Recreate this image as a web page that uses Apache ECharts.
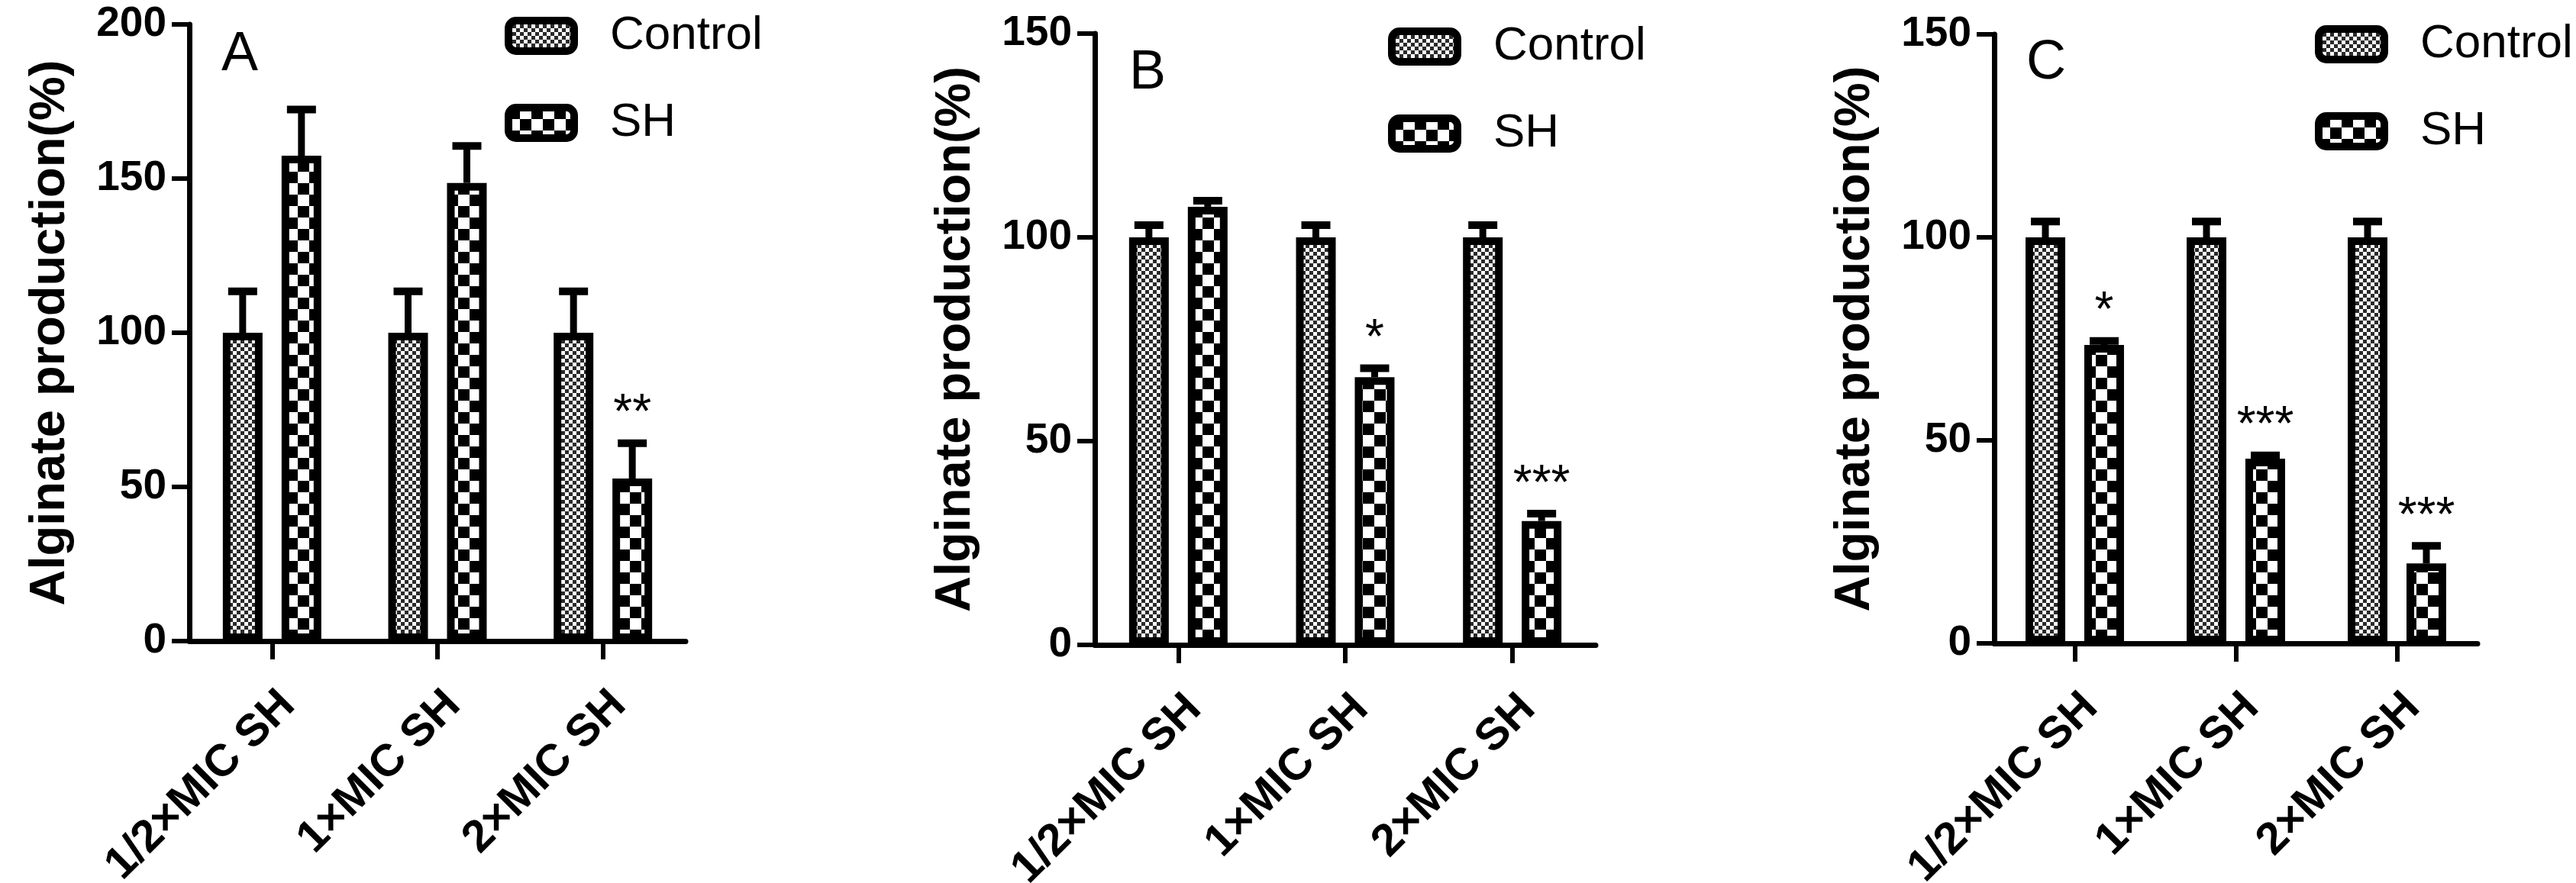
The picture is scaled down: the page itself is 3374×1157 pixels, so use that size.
<!DOCTYPE html>
<html>
<head>
<meta charset="utf-8">
<title>Alginate production</title>
<script src="https://cdn.jsdelivr.net/npm/echarts@6/dist/echarts.min.js"></script>
<style>
  html, body { margin: 0; padding: 0; background: #fff; }
  #main { width: 3374px; height: 1157px; }
</style>
</head>
<body>
<div id="main"></div>
<script>
// categories shared by the three panels
var categories = ['1/2×MIC SH', '1×MIC SH', '2×MIC SH'];
var seriesNames = ['Control', 'SH'];

// panel A
var controlA = [100, 100, 100];
var controlErrA = [13.4, 13.4, 13.4];
var shA = [157.4, 148.6, 52.7];
var shErrA = [15, 12, 11.5];
var sigA = ['', '', '**'];

// panel B
var controlB = [100, 100, 100];
var controlErrB = [3, 3, 3];
var shB = [107.5, 65.7, 30.4];
var shErrB = [1.5, 2.2, 1.8];
var sigB = ['', '*', '***'];

// panel C
var controlC = [100, 100, 100];
var controlErrC = [3.9, 3.9, 3.9];
var shC = [73.5, 45.5, 19.7];
var shErrC = [1, 0.8, 4.3];
var sigC = ['*', '***', '***'];

var yMax = [200, 150, 150];
var yInterval = 50;

var FONT = '"Liberation Sans", Arial, sans-serif';

// checkerboard fills like the Prism hatch patterns
function checker(cell, dark) {
  var c = document.createElement('canvas');
  c.width = c.height = cell * 2;
  var ctx = c.getContext('2d');
  ctx.fillStyle = '#fff';
  ctx.fillRect(0, 0, cell * 2, cell * 2);
  ctx.fillStyle = dark;
  ctx.fillRect(0, 0, cell, cell);
  ctx.fillRect(cell, cell, cell, cell);
  return c;
}
var finePattern = { image: checker(5, '#2a2a2a'), repeat: 'repeat' };
var coarsePattern = { image: checker(15, '#000'), repeat: 'repeat' };

var BAR_W = 52;
var BAR_GAP = '48%';
var HALF_STEP = 38.5; // bar centre offset from category centre

var panels = [
  { letter: 'A', ctrl: controlA, ctrlErr: controlErrA, sh: shA, shErr: shErrA, sig: sigA,
    grid: { left: 248, top: 32, width: 650, height: 808 },
    legendPos: { left: 661, top: 16 }, letterPos: { left: 290, top: 36 } },
  { letter: 'B', ctrl: controlB, ctrlErr: controlErrB, sh: shB, shErr: shErrB, sig: sigB,
    grid: { left: 1434, top: 44, width: 656, height: 801 },
    legendPos: { left: 1818, top: 30 }, letterPos: { left: 1479, top: 60 } },
  { letter: 'C', ctrl: controlC, ctrlErr: controlErrC, sh: shC, shErr: shErrC, sig: sigC,
    grid: { left: 2612, top: 45, width: 633, height: 798 },
    legendPos: { left: 3032, top: 27 }, letterPos: { left: 2654, top: 47 } }
];

function errorRender(offset, sig) {
  return function (params, api) {
    var i = api.value(0), v = api.value(1), e = api.value(2);
    var base = api.coord([i, v]);
    var top = api.coord([i, v + e]);
    var x = base[0] + offset;
    var children = [
      { type: 'line', shape: { x1: x, y1: base[1], x2: x, y2: top[1] },
        style: { stroke: '#000', lineWidth: 9 } },
      { type: 'line', shape: { x1: x - 19, y1: top[1], x2: x + 19, y2: top[1] },
        style: { stroke: '#000', lineWidth: 10 } }
    ];
    var s = sig ? sig[params.dataIndex] : '';
    if (s) {
      children.push({ type: 'text', x: x, y: top[1] - 37,
        style: { text: s, fontSize: 64, fontFamily: FONT, fill: '#000', align: 'center', verticalAlign: 'middle' } });
    }
    return { type: 'group', children: children };
  };
}

function errData(vals, errs) {
  return vals.map(function (v, i) { return [i, v, errs[i]]; });
}

var option = {
  backgroundColor: '#fff',
  animation: false,
  textStyle: { fontFamily: FONT, color: '#000' },
  title: [], grid: [], xAxis: [], yAxis: [], legend: [], series: []
};

panels.forEach(function (p, k) {
  option.title.push({ text: p.letter, left: p.letterPos.left, top: p.letterPos.top, padding: 0,
    textStyle: { fontSize: 72, fontWeight: 'normal', color: '#000', fontFamily: FONT } });
  option.grid.push({ left: p.grid.left, top: p.grid.top, width: p.grid.width, height: p.grid.height,
    containLabel: false, outerBoundsMode: 'none' });
  option.xAxis.push({
    gridIndex: k, type: 'category', data: categories,
    axisLine: { show: true, lineStyle: { color: '#000', width: 7 } },
    axisTick: { show: true, alignWithLabel: true, length: 24, lineStyle: { color: '#000', width: 6 } },
    axisLabel: { interval: 0, rotate: 45, fontSize: 59, fontWeight: 'bold', color: '#000', fontFamily: FONT,
      margin: 54, align: 'right', verticalAlign: 'top' },
    splitLine: { show: false }
  });
  option.yAxis.push({
    gridIndex: k, type: 'value', min: 0, max: yMax[k], interval: yInterval,
    name: 'Alginate production(%)', nameLocation: 'middle', nameGap: 149,
    nameTextStyle: { fontSize: 65, fontWeight: 'bold', color: '#000', fontFamily: FONT },
    axisLine: { show: true, lineStyle: { color: '#000', width: 7 } },
    axisTick: { show: true, length: 23, lineStyle: { color: '#000', width: 6 } },
    axisLabel: { fontSize: 55, fontWeight: 'bold', color: '#000', margin: 30, fontFamily: FONT },
    splitLine: { show: false }
  });
  option.legend.push({
    orient: 'vertical', left: p.legendPos.left, top: p.legendPos.top, padding: 0,
    itemWidth: 86, itemHeight: 40, itemGap: 52, icon: 'roundRect', selectedMode: false,
    data: seriesNames,
    itemStyle: { borderColor: '#000', borderWidth: 10 },
    textStyle: { fontSize: 62, color: '#000', fontFamily: FONT, padding: [0, 0, 0, 42] }
  });
  option.series.push({
    type: 'bar', name: 'Control', xAxisIndex: k, yAxisIndex: k, data: p.ctrl,
    barWidth: BAR_W, barGap: BAR_GAP,
    itemStyle: { color: finePattern, borderColor: '#000', borderWidth: 10 }
  });
  option.series.push({
    type: 'bar', name: 'SH', xAxisIndex: k, yAxisIndex: k, data: p.sh,
    barWidth: BAR_W, barGap: BAR_GAP,
    itemStyle: { color: coarsePattern, borderColor: '#000', borderWidth: 10 }
  });
  option.series.push({
    type: 'custom', xAxisIndex: k, yAxisIndex: k, z: 5,
    data: errData(p.ctrl, p.ctrlErr), renderItem: errorRender(-HALF_STEP, null)
  });
  option.series.push({
    type: 'custom', xAxisIndex: k, yAxisIndex: k, z: 5,
    data: errData(p.sh, p.shErr), renderItem: errorRender(HALF_STEP, p.sig)
  });
});

var chart = echarts.init(document.getElementById('main'), null, { renderer: 'canvas' });
chart.setOption(option);
</script>
</body>
</html>
